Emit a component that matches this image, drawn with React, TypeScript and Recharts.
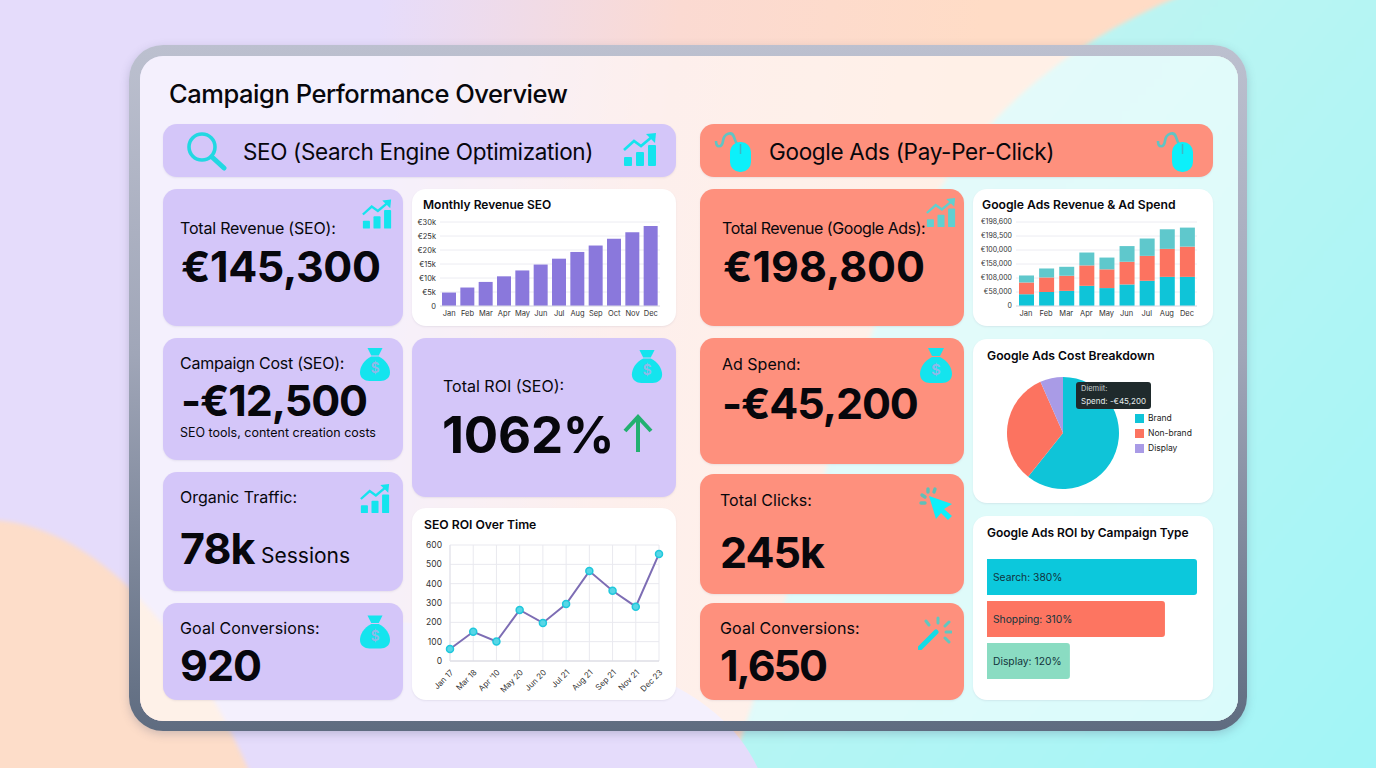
import React from 'react';
import {
  BarChart, Bar, XAxis, YAxis, CartesianGrid, LineChart, Line, PieChart, Pie, Cell, Legend, LabelList,
} from 'recharts';

const FONT = 'Inter, "Noto Sans", sans-serif';
const LAVENDER = '#d4c6f9';
const CORAL = '#fe907d';
const CYAN = '#14e4ee';
const INK = '#07070c';

// Monthly revenue (SEO)
const seoMonths = ['Jan', 'Feb', 'Mar', 'Apr', 'May', 'Jun', 'Jul', 'Aug', 'Sep', 'Oct', 'Nov', 'Dec'];
const seoRevenue = [4800, 6600, 8600, 10600, 12700, 14800, 16900, 19300, 21600, 24000, 26300, 28600];
const seoRevenueTicks = [0, 5000, 10000, 15000, 20000, 25000, 30000];
const seoRevenueLabels = ['0', '€5k', '€10k', '€15k', '€20k', '€25k', '€30k'];

// Google Ads stacked bars, the tick labels are as printed in the picture
const adsMonths = ['Jan', 'Feb', 'Mar', 'Apr', 'May', 'Jun', 'Jul', 'Aug', 'Dec'];
const adsLower = [42000, 50000, 54000, 72000, 64000, 77000, 90000, 104000, 104000];
const adsMiddle = [42000, 52000, 54000, 73000, 67000, 81000, 89000, 100000, 108000];
const adsUpper = [25000, 32000, 32000, 46000, 42000, 56000, 62000, 70000, 68000];
const adsTicks = [0, 50000, 100000, 150000, 200000, 250000, 300000];
const adsTickLabels = ['0', '€58,000', '€108,000', '€158,000', '€100,000', '€198,500', '€198,600'];

// Cost breakdown
const costNames = ['Brand', 'Non-brand', 'Display'];
const costShares = [60.7, 32.7, 6.6];
const costColors = ['#0fc4d8', '#fc7360', '#a99be6'];

// SEO ROI
const roiDates = ['Jan 17', 'Mar 18', "Apr '10", 'May 20', 'Jun 20', 'Jul 21', 'Aug 21', 'Sep 21', 'Nov 21', 'Dec 23'];
const roiValues = [62, 151, 101, 264, 197, 295, 465, 363, 281, 554];
const roiTicks = [0, 100, 200, 300, 400, 500, 600];

// ROI by campaign type, lengths are the drawn ones, they differ from the printed labels
const campaignLabels = ['Search: 380%', 'Shopping: 310%', 'Display: 120%'];
const campaignLengths = [380, 322, 150];
const campaignColors = ['#0cc8dc', '#fd7561', '#8adcc2'];

const seoData = seoMonths.map((month, i) => ({ month, revenue: seoRevenue[i] }));
const adsData = adsMonths.map((month, i) => ({ month, lower: adsLower[i], middle: adsMiddle[i], upper: adsUpper[i] }));
const costData = costNames.map((name, i) => ({ name, value: costShares[i] }));
const roiData = roiDates.map((date, i) => ({ date, roi: roiValues[i] }));
const campaignData = campaignLabels.map((label, i) => ({ label, length: campaignLengths[i] }));

const Box = ({ x, y, r, b, color, radius = 14, children }: any) => (
  <div style={{ position: 'absolute', left: x, top: y, width: r - x, height: b - y, background: color, borderRadius: radius, boxShadow: '0 1px 2px rgba(90,80,120,0.10)' }}>
    {children}
  </div>
);

const T = ({ x, y, size, weight = 400, color = INK, spacing = 0, children }: any) => (
  <div style={{ position: 'absolute', left: x, top: y, transform: 'translateY(-50%)', fontFamily: FONT, fontSize: size, fontWeight: weight, color, letterSpacing: spacing, whiteSpace: 'nowrap', lineHeight: 1 }}>
    {children}
  </div>
);

const Icon = ({ x, y, w, h, vb, children }: any) => (
  <svg style={{ position: 'absolute', left: x, top: y }} width={w} height={h} viewBox={vb}>
    {children}
  </svg>
);

const GrowthIcon = ({ x, y, w, h, color = CYAN }: any) => (
  <Icon x={x} y={y} w={w} h={h} vb="0 0 34 34">
    <rect x="1" y="24" width="8" height="9" rx="1" fill={color} />
    <rect x="13" y="19" width="8" height="14" rx="1" fill={color} />
    <rect x="25" y="12" width="8" height="21" rx="1" fill={color} />
    <path d="M1 17 L11 8 L18 13 L30 3" fill="none" stroke={color} strokeWidth="2.6" />
    <path d="M23 1 L33 0 L32 10 Z" fill={color} />
  </Icon>
);

const BagIcon = ({ x, y, w, h }: any) => (
  <Icon x={x} y={y} w={w} h={h} vb="0 0 32 36">
    <path d="M8 1 L24 1 L20 9 L12 9 Z" fill={CYAN} />
    <path d="M12 10 L20 10 C28 14 32 21 32 27 C32 33 27 36 22 36 L10 36 C5 36 0 33 0 27 C0 21 4 14 12 10 Z" fill={CYAN} />
    <text x="16" y="28" textAnchor="middle" fontFamily={FONT} fontSize="15" fontWeight="600" fill="#8fb8e8">$</text>
  </Icon>
);

const MouseIcon = ({ x, y, w, h }: any) => (
  <Icon x={x} y={y} w={w} h={h} vb="0 0 38 42">
    <path d="M2 11 C2 18 8 18 9 11 C10 3 18 1 20 7 C21 10 21 11 23 14" fill="none" stroke="#5fc4c4" strokeWidth="2.6" />
    <rect x="16" y="12" width="21" height="30" rx="10" fill="#0cf0fa" />
    <path d="M26.5 14 L26.5 24" stroke="#3fb6c4" strokeWidth="1.5" />
  </Icon>
);

const Backdrop = ({ x = 0, y = 0 }: any) => (
  <svg style={{ position: 'absolute', left: x, top: y }} width={1376} height={768}>
    <defs>
      <linearGradient id="peach" x1="0" y1="0" x2="1" y2="0.1">
        <stop offset="0" stopColor="#e6dcfb" />
        <stop offset="0.3" stopColor="#fbdad2" />
        <stop offset="0.6" stopColor="#ffdcc6" />
        <stop offset="1" stopColor="#ffdcc6" />
      </linearGradient>
      <linearGradient id="aqua" x1="0" y1="0" x2="1" y2="1">
        <stop offset="0" stopColor="#c8f4f0" />
        <stop offset="1" stopColor="#a2f5f7" />
      </linearGradient>
      <filter id="soft"><feGaussianBlur stdDeviation="2" /></filter>
    </defs>
    <rect x="380" y="0" width="996" height="768" fill="url(#peach)" />
    <path d="M1183 -5 C1060 45 960 130 900 260 C850 380 800 560 730 773 L1381 773 L1381 -5 Z" fill="url(#aqua)" filter="url(#soft)" />
    <path d="M380 773 L760 773 C720 680 600 640 380 620 Z" fill="#e5dcfb" />
    <path d="M-5 520 C70 525 170 590 250 773 L-5 773 Z" fill="#fdddc9" filter="url(#soft)" />
  </svg>
);

export default function App() {
  return (
    <div style={{ position: 'fixed', left: 0, top: 0, width: 1376, height: 768, overflow: 'hidden', background: '#e5dcfb' }}>
      <Backdrop />

      {/* frame */}
      <div style={{ position: 'absolute', left: 129, top: 45, width: 1118, height: 686, borderRadius: 34, background: 'linear-gradient(180deg,#bcc0cf 0%,#a0a6b8 45%,#5f6c80 100%)', boxShadow: '0 3px 10px rgba(70,80,110,0.25)' }} />
      <div style={{ position: 'absolute', left: 140, top: 56, width: 1098, height: 665, borderRadius: 23, overflow: 'hidden', background: '#e5dcfb' }}>
        <Backdrop x={-140} y={-56} />
        <div style={{ position: 'absolute', inset: 0, background: 'rgba(255,255,255,0.58)' }} />
      </div>

      <T x={169} y={94} size={25.5} weight={500} spacing={-0.45}>Campaign Performance Overview</T>

      {/* SEO column */}
      <Box x={163} y={124} r={676} b={177} color={LAVENDER} />
      <Icon x={186} y={132} w={41} h={39} vb="0 0 41 39">
        <circle cx="16" cy="15" r="13" fill="none" stroke="#22d8e2" strokeWidth="3.6" />
        <path d="M26 25 L38 36" stroke="#22d8e2" strokeWidth="5" strokeLinecap="round" />
      </Icon>
      <T x={243} y={152} size={22.5} spacing={-0.35}>SEO (Search Engine Optimization)</T>
      <GrowthIcon x={623} y={132} w={34} h={36} />

      <Box x={163} y={189} r={403} b={326} color={LAVENDER} />
      <T x={180} y={228} size={16} spacing={-0.2}>Total Revenue (SEO):</T>
      <T x={181} y={266} size={43} weight={700} spacing={-0.4}>€145,300</T>
      <GrowthIcon x={362} y={198} w={30} h={33} />

      <Box x={163} y={338} r={403} b={460} color={LAVENDER} />
      <T x={180} y={363} size={16} spacing={-0.25}>Campaign Cost (SEO):</T>
      <T x={181} y={400} size={43} weight={700} spacing={-1.1}>-€12,500</T>
      <T x={180} y={433} size={12.5}>SEO tools, content creation costs</T>
      <BagIcon x={360} y={346} w={30} h={36} />

      <Box x={163} y={472} r={403} b={591} color={LAVENDER} />
      <T x={180} y={497} size={16}>Organic Traffic:</T>
      <T x={180} y={548} size={43} weight={700} spacing={-1}>78k</T>
      <T x={261} y={555} size={21}>Sessions</T>
      <GrowthIcon x={360} y={482} w={30} h={34} />

      <Box x={163} y={603} r={403} b={700} color={LAVENDER} />
      <T x={180} y={628} size={16} spacing={0.1}>Goal Conversions:</T>
      <T x={180} y={665} size={43} weight={700} spacing={-1}>920</T>
      <BagIcon x={360} y={613} w={30} h={37} />

      <Box x={412} y={338} r={676} b={497} color={LAVENDER} />
      <T x={443} y={386} size={16}>Total ROI (SEO):</T>
      <T x={442} y={434} size={51} weight={700} spacing={-0.2}>1062%</T>
      <BagIcon x={631} y={349} w={32} h={34} />
      <Icon x={622} y={414} w={32} h={39} vb="0 0 32 39">
        <path d="M16 38 L16 4 M3 17 L16 3 L29 17" fill="none" stroke="#22b070" strokeWidth="4" />
      </Icon>

      <Box x={412} y={189} r={676} b={326} color="#ffffff">
        <T x={11} y={16} size={12} weight={600}>Monthly Revenue SEO</T>
        <div style={{ position: 'absolute', left: 0, top: 0 }}>
          <BarChart width={264} height={137} data={seoData} margin={{ top: 33, right: 16, bottom: 0, left: 0 }}>
            <CartesianGrid vertical={false} stroke="#ececf2" />
            <XAxis dataKey="month" height={20} interval={0} tickLine={false} tickSize={3} axisLine={{ stroke: '#dcdce4' }} tick={{ fontSize: 7.5, fill: '#333', fontFamily: FONT }} />
            <YAxis width={28} domain={[0, 30000]} ticks={seoRevenueTicks} interval={0} tickLine={false} tickSize={4} tickMargin={0} axisLine={false}
              tickFormatter={(v: number) => seoRevenueLabels[seoRevenueTicks.indexOf(v)]}
              tick={{ fontSize: 7.5, fill: '#333', fontFamily: FONT }} />
            <Bar dataKey="revenue" fill="#8a78dc" barSize={14} isAnimationActive={false} />
          </BarChart>
        </div>
      </Box>

      <Box x={412} y={508} r={676} b={700} color="#ffffff">
        <T x={12} y={17} size={12.2} weight={600}>SEO ROI Over Time</T>
        <div style={{ position: 'absolute', left: 0, top: 0 }}>
          <LineChart width={264} height={192} data={roiData} margin={{ top: 37, right: 17, bottom: 0, left: 0 }}>
            <CartesianGrid stroke="#e9e9ef" />
            <XAxis dataKey="date" height={39} interval={0} tickLine={false} axisLine={{ stroke: '#d8d8e0' }} angle={-45} textAnchor="end"
              tick={{ fontSize: 8, fill: '#333', fontFamily: FONT }} />
            <YAxis width={38} domain={[0, 600]} ticks={roiTicks} interval={0} tickLine={false} axisLine={{ stroke: '#e2e2ea' }}
              tick={{ fontSize: 8.5, fill: '#333', fontFamily: FONT }} />
            <Line dataKey="roi" type="linear" stroke="#7d6db4" strokeWidth={2} isAnimationActive={false}
              dot={{ r: 3.5, fill: '#58d6e6', stroke: '#1fc8dc', strokeWidth: 1.5 }} />
          </LineChart>
        </div>
      </Box>

      {/* Google Ads column */}
      <Box x={700} y={124} r={1213} b={177} color={CORAL} />
      <MouseIcon x={714} y={130} w={38} h={42} />
      <T x={769} y={152} size={22.5} spacing={-0.3}>Google Ads (Pay-Per-Click)</T>
      <MouseIcon x={1156} y={130} w={38} h={42} />

      <Box x={700} y={189} r={964} b={326} color={CORAL} />
      <T x={722} y={228} size={16} spacing={-0.45}>Total Revenue (Google Ads):</T>
      <T x={723} y={266} size={43} weight={700}>€198,800</T>
      <GrowthIcon x={926} y={197} w={30} h={32} color="#5fd0d0" />

      <Box x={700} y={338} r={964} b={464} color={CORAL} />
      <T x={722} y={364} size={16}>Ad Spend:</T>
      <T x={722} y={403} size={43} weight={700} spacing={-1.1}>-€45,200</T>
      <BagIcon x={920} y={347} w={32} h={36} />

      <Box x={700} y={474} r={964} b={594} color={CORAL} />
      <T x={720} y={500} size={16}>Total Clicks:</T>
      <T x={720} y={552} size={43} weight={700} spacing={-1}>245k</T>
      <Icon x={918} y={486} w={36} h={34} vb="0 0 36 34">
        <path d="M11 10 L34 18 L26 23 L34 30 L30 34 L23 27 L18 33 Z" fill="#0cf0fa" />
        <path d="M4 9 L7 11 M3 17 L7 17 M10 3 L10 6 M17 3 L16 6" stroke="#5fc0b8" strokeWidth="3.4" strokeLinecap="round" />
      </Icon>

      <Box x={700} y={603} r={964} b={700} color={CORAL} />
      <T x={720} y={628} size={16} spacing={0.1}>Goal Conversions:</T>
      <T x={720} y={665} size={43} weight={700} spacing={-2}>1,650</T>
      <Icon x={918} y={616} w={34} h={34} vb="0 0 34 34">
        <path d="M2 32 L18 16" stroke="#14dce6" strokeWidth="5" strokeLinecap="round" />
        <path d="M20 2 L20 7 M8 5 L11 9 M31 6 L27 10 M33 16 L28 16 M27 22 L31 26" stroke="#5fc8c0" strokeWidth="3" strokeLinecap="round" />
      </Icon>

      <Box x={973} y={189} r={1213} b={326} color="#ffffff">
        <T x={9} y={16} size={12.2} weight={600}>Google Ads Revenue &amp; Ad Spend</T>
        <div style={{ position: 'absolute', left: 0, top: 0 }}>
          <BarChart width={240} height={137} data={adsData} margin={{ top: 33, right: 16, bottom: 0, left: 0 }}>
            <CartesianGrid vertical={false} stroke="#ececf2" />
            <XAxis dataKey="month" height={20} interval={0} tickLine={false} tickSize={3} axisLine={{ stroke: '#dcdce4' }} tick={{ fontSize: 7.5, fill: '#333', fontFamily: FONT }} />
            <YAxis width={43} domain={[0, 300000]} ticks={adsTicks} interval={0} tickLine={false} tickSize={4} tickMargin={0} axisLine={false}
              tickFormatter={(v: number) => adsTickLabels[adsTicks.indexOf(v)]}
              tick={{ fontSize: 7, fill: '#333', fontFamily: FONT }} />
            <Bar dataKey="lower" stackId="a" fill="#0fc4d8" barSize={15} isAnimationActive={false} />
            <Bar dataKey="middle" stackId="a" fill="#fc7360" barSize={15} isAnimationActive={false} />
            <Bar dataKey="upper" stackId="a" fill="#5fc8cc" barSize={15} isAnimationActive={false} />
          </BarChart>
        </div>
      </Box>

      <Box x={973} y={339} r={1213} b={503} color="#ffffff">
        <T x={14} y={17} size={12.2} weight={600}>Google Ads Cost Breakdown</T>
        <div style={{ position: 'absolute', left: 0, top: 0 }}>
          <PieChart width={240} height={164} margin={{ top: 0, right: 0, bottom: 0, left: 0 }}>
            <Pie data={costData} dataKey="value" nameKey="name" cx={90} cy={94} outerRadius={56} innerRadius={0}
              startAngle={90} endAngle={-270} stroke="none" isAnimationActive={false}>
              {costData.map((entry, index) => (
                <Cell key={`cell-${index}`} fill={costColors[index]} />
              ))}
            </Pie>
            <Legend layout="vertical" iconType="square" iconSize={9} itemSorter={null}
              wrapperStyle={{ left: 162, top: 72, width: 78, fontSize: 8.5, fontFamily: FONT, lineHeight: '15px' }}
              formatter={(value: string) => <span style={{ color: '#222' }}>{value}</span>} />
          </PieChart>
        </div>
        <div style={{ position: 'absolute', left: 103, top: 43, width: 75, height: 27, borderRadius: 3, background: '#1f2a2c' }} />
        <T x={108} y={50} size={7.5} color="#c8d0d0">Diemiit:</T>
        <T x={108} y={62} size={8} color="#e6ecec">Spend: -€45,200</T>
      </Box>

      <Box x={973} y={516} r={1213} b={700} color="#ffffff">
        <T x={14} y={17} size={12} weight={600}>Google Ads ROI by Campaign Type</T>
        <div style={{ position: 'absolute', left: 0, top: 0 }}>
          <BarChart layout="vertical" width={240} height={184} data={campaignData} margin={{ top: 37, right: 16, bottom: 13, left: 14 }}>
            <XAxis type="number" hide domain={[0, 380]} />
            <YAxis type="category" dataKey="label" width={0} tick={false} tickLine={false} padding={{ top: 3, bottom: 5 }} axisLine={{ stroke: '#c8c8d0' }} />
            <Bar dataKey="length" barSize={36} radius={[0, 3, 3, 0]} isAnimationActive={false}>
              {campaignData.map((entry, index) => (
                <Cell key={`bar-${index}`} fill={campaignColors[index]} />
              ))}
              <LabelList dataKey="label" content={(p: any) => (
                <text x={p.x + 6} y={p.y + p.height / 2} dominantBaseline="central" fontSize={10.3} fontFamily={FONT} fill="#12343c">{p.value}</text>
              )} />
            </Bar>
          </BarChart>
        </div>
      </Box>
    </div>
  );
}
